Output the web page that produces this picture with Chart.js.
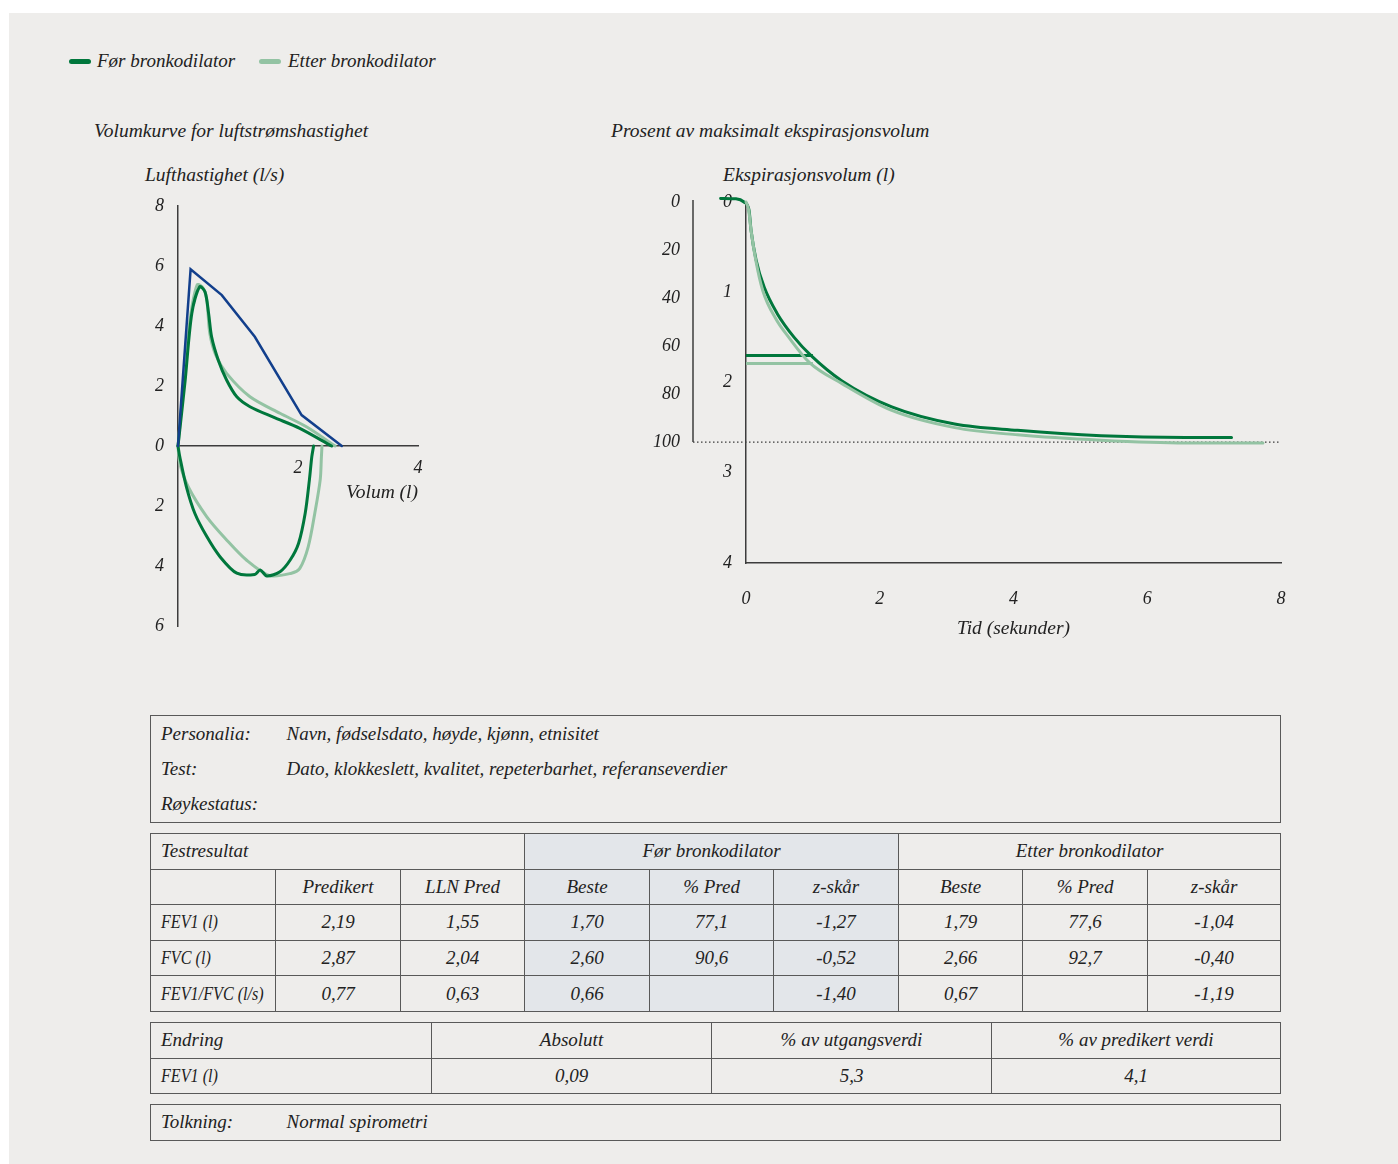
<!DOCTYPE html>
<html lang="no">
<head>
<meta charset="utf-8">
<title>Spirometri</title>
<script src="https://cdn.jsdelivr.net/npm/chart.js@4.4.1/dist/chart.umd.min.js"></script>
<style>
    html, body { margin: 0; padding: 0; background: #fff; }
    body { width: 1398px; height: 1164px; position: relative; overflow: hidden;
           font-family: 'Liberation Serif', serif; font-style: italic; color: #222; }
    #panel { position: absolute; left: 9px; top: 13px; width: 1389px; height: 1151px; background: #eeedeb; }
    .txt { position: absolute; white-space: nowrap; line-height: 1; font-size: 19px; }
    .head { font-size: 19.5px; }
    .swatch { position: absolute; width: 22px; height: 5px; border-radius: 3px; }
    canvas { position: absolute; }
    table { position: absolute; left: 150px; width: 1130px; border-collapse: collapse; table-layout: fixed;
            font-size: 19px; }
    td { border: 1.5px solid #595959; padding: 0; text-align: center; white-space: nowrap; }
    tr { height: 35.6px; }
    td.lbl, td.row { text-align: left; padding-left: 10px; }
    td.row span { display: inline-block; transform: scaleX(0.85); transform-origin: left center; }
    td.val { text-align: left; }
    td.shade { background: #e3e6ea; }
    table.box td { border: none; }
    table.box { border: 1.5px solid #595959; }
</style>
</head>
<body>
<div id="panel"></div>

<div class="swatch" style="left:69px; top:58.5px; background:#00773c"></div>
<div class="txt" style="left:97px; top:51px">Før bronkodilator</div>
<div class="swatch" style="left:259px; top:58.5px; background:#93c3a3"></div>
<div class="txt" style="left:288px; top:51px">Etter bronkodilator</div>

<div class="txt head" style="left:94px; top:121px">Volumkurve for luftstrømshastighet</div>
<div class="txt head" style="left:145px; top:165px">Lufthastighet (l/s)</div>
<div class="txt head" style="left:611px; top:121px">Prosent av maksimalt ekspirasjonsvolum</div>
<div class="txt head" style="left:723px; top:165px">Ekspirasjonsvolum (l)</div>

<canvas id="flowChart" width="420" height="520" style="left:60px; top:150px"></canvas>
<canvas id="volumeChart" width="720" height="520" style="left:600px; top:150px"></canvas>

<table class="box" id="infoTable" style="top:715px"></table>
<table id="resultTable" style="top:833px"></table>
<table id="changeTable" style="top:1022px"></table>
<table class="box" id="interpTable" style="top:1104px"></table>

<script>
// Volumkurve: volum (l) og lufthastighet (l/s), innånding negativ
const predVolume = [0, 0.21, 0.73, 1.28, 2.06, 2.73];
const predFlow = [0, 5.89, 5.03, 3.64, 1.03, 0];

const preExpVolume = [0, 0.12, 0.23, 0.36, 0.45, 0.51, 0.56, 0.67, 0.81, 0.98, 1.2, 1.59, 2.03, 2.56];
const preExpFlow = [0, 2.2, 4.42, 5.31, 5.14, 4.42, 3.64, 2.87, 2.2, 1.64, 1.31, 0.96, 0.59, 0];
const preInspVolume = [0, 0.03, 0.14, 0.28, 0.48, 0.7, 0.98, 1.28, 1.37, 1.48, 1.7, 1.87, 2.01, 2.12, 2.19, 2.23, 2.26];
const preInspFlow = [0, -0.36, -1.36, -2.24, -3.02, -3.69, -4.24, -4.28, -4.13, -4.33, -4.19, -3.8, -3.24, -2.24, -1.13, -0.36, 0];

const postExpVolume = [0, 0.09, 0.2, 0.32, 0.42, 0.48, 0.53, 0.63, 0.81, 1.2, 1.7, 2.14, 2.62];
const postExpFlow = [0, 1.98, 4.2, 5.37, 5.26, 4.87, 3.76, 3.03, 2.42, 1.64, 1.09, 0.64, 0];
const postInspVolume = [0, 0.03, 0.17, 0.48, 0.81, 1.14, 1.53, 1.89, 2.03, 2.17, 2.28, 2.37, 2.39, 2.4];
const postInspFlow = [0, -0.58, -1.36, -2.36, -3.13, -3.8, -4.32, -4.24, -4.08, -3.36, -2.24, -1.13, -0.36, 0];

// Volum-tid: tid (s) og ekspirasjonsvolum (l)
const preTime = [-0.38, -0.15, -0.03, 0.045, 0.075, 0.15, 0.27, 0.47, 0.72, 0.97, 1.43, 2.18, 3.12, 4.06, 5.31, 6.57, 7.26];
const preVolume = [-0.04, -0.035, 0, 0.09, 0.31, 0.64, 0.94, 1.24, 1.5, 1.7, 1.98, 2.27, 2.46, 2.53, 2.59, 2.61, 2.61];
const postTime = [0, 0.04, 0.075, 0.15, 0.25, 0.45, 0.64, 0.95, 1.43, 2.18, 3.12, 4.06, 5.31, 6.57, 7.73];
const postVolume = [0, 0.09, 0.31, 0.66, 0.98, 1.3, 1.5, 1.78, 2.01, 2.31, 2.5, 2.58, 2.64, 2.67, 2.67];

// Tabeller
const infoLabels = ['Personalia:', 'Test:', 'Røykestatus:'];
const infoValues = ['Navn, fødselsdato, høyde, kjønn, etnisitet', 'Dato, klokkeslett, kvalitet, repeterbarhet, referanseverdier', ''];
const resultLabels = ['FEV1 (l)', 'FVC (l)', 'FEV1/FVC (l/s)'];
const predicted = [2.19, 2.87, 0.77];
const llnPred = [1.55, 2.04, 0.63];
const preBest = [1.70, 2.60, 0.66];
const prePctPred = [77.1, 90.6, null];
const preZ = [-1.27, -0.52, -1.40];
const postBest = [1.79, 2.66, 0.67];
const postPctPred = [77.6, 92.7, null];
const postZ = [-1.04, -0.40, -1.19];
const changeLabels = ['Absolutt', '% av utgangsverdi', '% av predikert verdi'];
const fev1Change = [0.09, 5.3, 4.1];
const fev1ChangeDecimals = [2, 1, 1];

const AXIS = '#3c3c3c';
const DARK = '#00773c';
const LIGHT = '#93c3a3';
const BLUE = '#123f8c';

Chart.defaults.font.family = "'Liberation Serif', serif";
Chart.defaults.font.style = 'italic';
Chart.defaults.font.size = 18;
Chart.defaults.color = '#222';
Chart.defaults.animation = false;
Chart.defaults.plugins.legend.display = false;
Chart.defaults.plugins.tooltip.enabled = false;

function toPoints(xs, ys) {
    return xs.map((x, i) => ({ x: x, y: ys[i] }));
}

function lineSet(xs, ys, color, width, extra) {
    return Object.assign({
        data: toPoints(xs, ys),
        showLine: true,
        borderColor: color,
        borderWidth: width,
        borderCapStyle: 'round',
        pointRadius: 0,
        fill: false,
        clip: false
    }, extra || {});
}

const plainAxis = {
    type: 'linear',
    grid: { display: false, drawTicks: false },
    border: { color: AXIS, width: 1.5 }
};

const titleFont = { size: 19.5 };

new Chart(document.getElementById('flowChart'), {
    type: 'scatter',
    data: {
        datasets: [
            lineSet(predVolume, predFlow, BLUE, 2.5),
            lineSet(preExpVolume, preExpFlow, DARK, 3, { tension: 0.3 }),
            lineSet(preInspVolume, preInspFlow, DARK, 3, { tension: 0.3 }),
            lineSet(postExpVolume, postExpFlow, LIGHT, 3, { tension: 0.3 }),
            lineSet(postInspVolume, postInspFlow, LIGHT, 3, { tension: 0.3 })
        ]
    },
    options: {
        responsive: false,
        devicePixelRatio: 1,
        layout: { padding: { left: 0, right: 62, top: 56, bottom: 44 } },
        scales: {
            x: Object.assign({}, plainAxis, {
                position: { y: 0 },
                min: 0,
                max: 4,
                ticks: { stepSize: 2, padding: 11, callback: v => v === 0 ? null : v },
                title: { display: true, text: 'Volum (l)', align: 'end', font: titleFont, padding: { top: -8, bottom: 0 } }
            }),
            y: Object.assign({}, plainAxis, {
                min: -6,
                max: 8,
                ticks: { stepSize: 2, padding: 14, callback: v => Math.abs(v) },
                afterFit: s => { s.width = 118; }
            })
        }
    }
});

const percentGuide = {
    id: 'percentGuide',
    beforeDatasetsDraw(chart) {
        const { ctx, chartArea } = chart;
        const pct = chart.scales.pct;
        const x0 = pct.right;
        const yTop = pct.getPixelForValue(0) - 2;
        const y100 = pct.getPixelForValue(100);
        ctx.save();
        ctx.strokeStyle = AXIS;
        ctx.lineWidth = 1.5;
        ctx.beginPath();
        ctx.moveTo(x0, yTop);
        ctx.lineTo(x0, y100);
        ctx.stroke();
        ctx.lineWidth = 1.2;
        ctx.setLineDash([1.5, 2.5]);
        ctx.beginPath();
        ctx.moveTo(x0, y100);
        ctx.lineTo(chartArea.right, y100);
        ctx.stroke();
        ctx.restore();
    }
};

const volumeMax = 4;
const percentRef = postBest[1];
const timeMin = 0;
const timeMax = 8;

new Chart(document.getElementById('volumeChart'), {
    type: 'scatter',
    data: {
        datasets: [
            lineSet(postTime, postVolume, LIGHT, 3, { cubicInterpolationMode: 'monotone' }),
            lineSet([0, 1], [postBest[0], postBest[0]], LIGHT, 3, { borderCapStyle: 'butt' }),
            lineSet(preTime, preVolume, DARK, 3, { cubicInterpolationMode: 'monotone' }),
            lineSet([0, 1], [preBest[0], preBest[0]], DARK, 3, { borderCapStyle: 'butt' })
        ]
    },
    options: {
        responsive: false,
        devicePixelRatio: 1,
        layout: { padding: { left: 0, right: 39, top: 52, bottom: 7 } },
        scales: {
            x: Object.assign({}, plainAxis, {
                // bounds set after data limits so the line before t=0 is not trimmed
                afterDataLimits: s => { s.min = timeMin; s.max = timeMax; },
                ticks: { stepSize: 2, padding: 25 },
                title: { display: true, text: 'Tid (sekunder)', font: titleFont, padding: { top: 0, bottom: 22 } },
                afterFit: s => { s.height = 100; }
            }),
            y: Object.assign({}, plainAxis, {
                reverse: true,
                min: 0,
                max: volumeMax,
                weight: 0,
                ticks: { stepSize: 1, padding: 14 },
                afterFit: s => { s.width = 53; }
            }),
            pct: {
                type: 'linear',
                position: 'left',
                reverse: true,
                min: 0,
                max: 100 * volumeMax / percentRef,
                weight: 1,
                grid: { display: false, drawTicks: false },
                border: { display: false },
                ticks: { stepSize: 20, padding: 13 },
                afterBuildTicks: s => { s.ticks = s.ticks.filter(t => t.value <= 100); },
                afterFit: s => { s.width = 93; }
            }
        }
    },
    plugins: [percentGuide]
});

function fmt(v, d) {
    return v === null ? '' : v.toFixed(d).replace('.', ',');
}

function cell(text, cls, span) {
    if (cls === 'row') text = '<span>' + text + '</span>';
    return '<td' + (cls ? ' class="' + cls + '"' : '') + (span ? ' colspan="' + span + '"' : '') + '>' + text + '</td>';
}

function colgroup(widths) {
    return '<colgroup>' + widths.map(w => '<col style="width:' + w + 'px">').join('') + '</colgroup>';
}

document.getElementById('infoTable').innerHTML = colgroup([136, 994]) +
    infoLabels.map((l, i) => '<tr>' + cell(l, 'lbl') + cell(infoValues[i], 'val') + '</tr>').join('');

let res = colgroup([125, 125, 124, 125, 124, 125, 124, 125, 133]);
res += '<tr>' + cell('Testresultat', 'lbl', 3) + cell('Før bronkodilator', 'shade', 3) + cell('Etter bronkodilator', '', 3) + '</tr>';
res += '<tr>' + cell('', '') + cell('Predikert') + cell('LLN Pred') +
    cell('Beste', 'shade') + cell('% Pred', 'shade') + cell('z-skår', 'shade') +
    cell('Beste') + cell('% Pred') + cell('z-skår') + '</tr>';
resultLabels.forEach((l, i) => {
    res += '<tr>' + cell(l, 'row') + cell(fmt(predicted[i], 2)) + cell(fmt(llnPred[i], 2)) +
        cell(fmt(preBest[i], 2), 'shade') + cell(fmt(prePctPred[i], 1), 'shade') + cell(fmt(preZ[i], 2), 'shade') +
        cell(fmt(postBest[i], 2)) + cell(fmt(postPctPred[i], 1)) + cell(fmt(postZ[i], 2)) + '</tr>';
});
document.getElementById('resultTable').innerHTML = res;

document.getElementById('changeTable').innerHTML = colgroup([281, 280, 280, 289]) +
    '<tr>' + cell('Endring', 'lbl') + changeLabels.map(c => cell(c)).join('') + '</tr>' +
    '<tr>' + cell('FEV1 (l)', 'row') + fev1Change.map((v, i) => cell(fmt(v, fev1ChangeDecimals[i]))).join('') + '</tr>';

document.getElementById('interpTable').innerHTML = colgroup([136, 994]) +
    '<tr>' + cell('Tolkning:', 'lbl') + cell('Normal spirometri', 'val') + '</tr>';
</script>
</body>
</html>
